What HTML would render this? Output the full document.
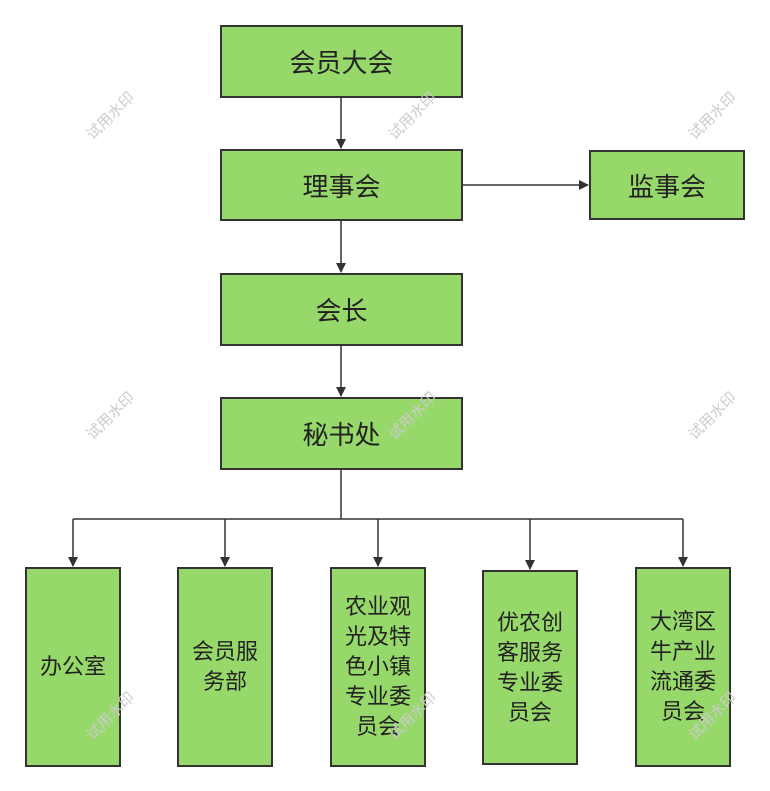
<!DOCTYPE html>
<html><head><meta charset="utf-8"><style>
body{margin:0;background:#fff;width:770px;height:791px;position:relative;overflow:hidden;font-family:"Liberation Sans","Noto Sans CJK SC",sans-serif;}
.b{position:absolute;background:#97d86a;border:2px solid #333;box-sizing:border-box;display:flex;align-items:center;justify-content:center;text-align:center;color:#222;font-size:26px;}
.s{font-size:22px;line-height:30px;padding:0 4px;}
.w{position:absolute;color:#ccc;font-size:15px;transform:rotate(-45deg);}
svg{position:absolute;left:0;top:0}
</style></head><body>
<svg width="770" height="791">
<defs><marker id="a" markerWidth="10" markerHeight="10" refX="9" refY="5" orient="auto" markerUnits="userSpaceOnUse"><path d="M0,0 L10,5 L0,10 z" fill="#333"/></marker></defs>
<g stroke="#333" stroke-width="1.5" fill="none">
<line x1="341" y1="98" x2="341" y2="148" marker-end="url(#a)"/>
<line x1="341" y1="221" x2="341" y2="272" marker-end="url(#a)"/>
<line x1="341" y1="346" x2="341" y2="396" marker-end="url(#a)"/>
<line x1="463" y1="185" x2="588" y2="185" marker-end="url(#a)"/>
<line x1="341" y1="470" x2="341" y2="519"/>
<line x1="73" y1="519" x2="683" y2="519"/>
<line x1="73" y1="519" x2="73" y2="566" marker-end="url(#a)"/>
<line x1="225" y1="519" x2="225" y2="566" marker-end="url(#a)"/>
<line x1="378" y1="519" x2="378" y2="566" marker-end="url(#a)"/>
<line x1="530" y1="519" x2="530" y2="569" marker-end="url(#a)"/>
<line x1="683" y1="519" x2="683" y2="566" marker-end="url(#a)"/>
</g></svg>
<div class="b" style="left:220px;top:25px;width:243px;height:73px">会员大会</div>
<div class="b" style="left:220px;top:149px;width:243px;height:72px">理事会</div>
<div class="b" style="left:589px;top:150px;width:156px;height:70px">监事会</div>
<div class="b" style="left:220px;top:273px;width:243px;height:73px">会长</div>
<div class="b" style="left:220px;top:397px;width:243px;height:73px">秘书处</div>
<div class="b s" style="left:25px;top:567px;width:96px;height:200px">办公室</div>
<div class="b s" style="left:177px;top:567px;width:96px;height:200px">会员服务部</div>
<div class="b s" style="left:330px;top:567px;width:96px;height:200px">农业观光及特色小镇专业委员会</div>
<div class="b s" style="left:482px;top:570px;width:96px;height:195px">优农创客服务专业委员会</div>
<div class="b s" style="left:635px;top:567px;width:96px;height:200px">大湾区牛产业流通委员会</div>
<div class="w" style="left:80px;top:105px">试用水印</div>
<div class="w" style="left:382px;top:105px">试用水印</div>
<div class="w" style="left:682px;top:105px">试用水印</div>
<div class="w" style="left:80px;top:405px">试用水印</div>
<div class="w" style="left:382px;top:405px">试用水印</div>
<div class="w" style="left:682px;top:405px">试用水印</div>
<div class="w" style="left:80px;top:705px">试用水印</div>
<div class="w" style="left:382px;top:705px">试用水印</div>
<div class="w" style="left:682px;top:705px">试用水印</div>
</body></html>
